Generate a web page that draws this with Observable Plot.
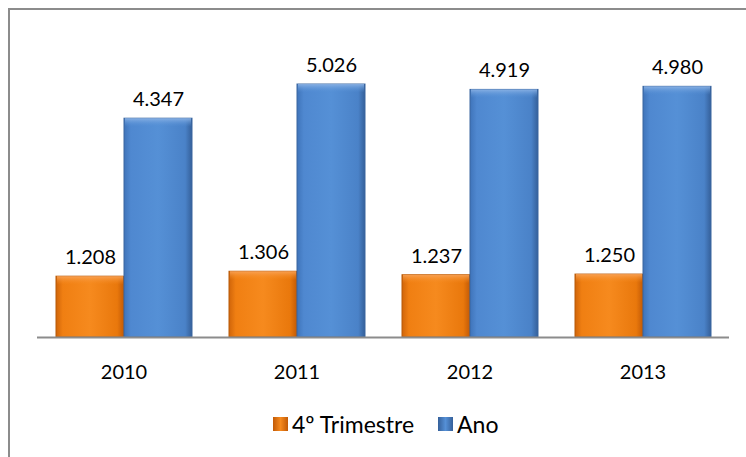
<!DOCTYPE html>
<html>
<head>
<meta charset="utf-8">
<script src="https://cdn.jsdelivr.net/npm/d3@7"></script>
<script src="https://cdn.jsdelivr.net/npm/@observablehq/plot@0.6"></script>
<style>
  html, body { margin: 0; padding: 0; background: #fff; }
  #wrap { position: relative; width: 746px; height: 457px; overflow: hidden; font-family: Lato, "Open Sans", sans-serif; }
  #border { position: absolute; left: 8px; top: 8px; width: 760px; height: 470px; border-left: 2px solid #8c8c8c; border-top: 2px solid #8c8c8c; }
  #legend { position: absolute; top: 410px; left: 273px; display: flex; align-items: center; font-size: 23px; color: #000; }
  .sw { width: 15px; height: 14px; display: inline-block; margin-right: 4px; box-sizing: border-box; }
</style>
</head>
<body>
<div id="wrap">
  <div id="border"></div>
  <div id="chart"></div>
  <div id="legend"></div>
</div>
<script>
const years = ["2010", "2011", "2012", "2013"];
const seriesNames = ["4º Trimestre", "Ano"];
const trimestre = [1.208, 1.306, 1.237, 1.250];
const ano = [4.347, 5.026, 4.919, 4.980];
const labels = { "4º Trimestre": ["1.208", "1.306", "1.237", "1.250"], "Ano": ["4.347", "5.026", "4.919", "4.980"] };

const data = [];
years.forEach((y, i) => {
  data.push({ year: y, series: seriesNames[0], value: trimestre[i], label: labels[seriesNames[0]][i] });
  data.push({ year: y, series: seriesNames[1], value: ano[i], label: labels[seriesNames[1]][i] });
});

const chart = Plot.plot({
  width: 746,
  height: 457,
  marginLeft: 35,
  marginRight: 16,
  marginTop: 35,
  marginBottom: 120,
  style: { fontFamily: "Lato, 'Open Sans', sans-serif", background: "transparent", overflow: "visible" },
  fx: { domain: years, padding: 0, label: null },
  x: { domain: seriesNames, paddingInner: 0, paddingOuter: 0.26, axis: null },
  y: { domain: [0, 6], axis: null },
  marks: [
    Plot.axisFx({ tickSize: 0, tickPadding: 27, fontSize: 20, label: null, anchor: "bottom" }),
    Plot.barY(data.filter(d => d.series === seriesNames[0]), { fx: "year", x: "series", y: "value", fill: "url(#gOrange)", stroke: "#b85a08", strokeWidth: 1 }),
    Plot.barY(data.filter(d => d.series === seriesNames[1]), { fx: "year", x: "series", y: "value", fill: "url(#gBlue)", stroke: "#3b66a0", strokeWidth: 1 }),
    Plot.barY(data.filter(d => d.series === seriesNames[0]), { fx: "year", x: "series", y1: d => d.value, y2: d => d.value - 0.17, fill: "url(#gOrangeTop)", insetLeft: 1, insetRight: 1 }),
    Plot.barY(data.filter(d => d.series === seriesNames[1]), { fx: "year", x: "series", y1: d => d.value, y2: d => d.value - 0.17, fill: "url(#gBlueTop)", insetLeft: 1, insetRight: 1 }),
    Plot.ruleY([0], { stroke: "#8c8c8c", strokeWidth: 2 }),
    Plot.text(data, { fx: "year", x: "series", y: "value", text: "label", dy: -19, fontSize: 20, fill: "#000" })
  ]
});

const defs = `
<defs>
  <linearGradient id="gOrange" x1="0" x2="1" y1="0" y2="0">
    <stop offset="0" stop-color="#d0650a"/>
    <stop offset="0.1" stop-color="#f07f12"/>
    <stop offset="0.5" stop-color="#f68a1e"/>
    <stop offset="0.9" stop-color="#e9780c"/>
    <stop offset="1" stop-color="#c25a06"/>
  </linearGradient>
  <linearGradient id="gBlue" x1="0" x2="1" y1="0" y2="0">
    <stop offset="0" stop-color="#3f74ba"/>
    <stop offset="0.1" stop-color="#4f88d0"/>
    <stop offset="0.5" stop-color="#5590d6"/>
    <stop offset="0.9" stop-color="#4a82c8"/>
    <stop offset="1" stop-color="#35609a"/>
  </linearGradient>
  <linearGradient id="gOrangeTop" x1="0" x2="0" y1="0" y2="1">
    <stop offset="0" stop-color="#f9a45a" stop-opacity="0.9"/>
    <stop offset="1" stop-color="#f68a1e" stop-opacity="0"/>
  </linearGradient>
  <linearGradient id="gBlueTop" x1="0" x2="0" y1="0" y2="1">
    <stop offset="0" stop-color="#8fb5e6" stop-opacity="0.9"/>
    <stop offset="1" stop-color="#5590d6" stop-opacity="0"/>
  </linearGradient>
</defs>`;
chart.insertAdjacentHTML("afterbegin", defs);
document.getElementById("chart").appendChild(chart);

const legend = document.getElementById("legend");
const colors = { "4º Trimestre": "linear-gradient(90deg,#c25a06,#f68a1e 50%,#c25a06)", "Ano": "linear-gradient(90deg,#35609a,#5590d6 50%,#35609a)" };
seriesNames.forEach((s, i) => {
  const item = document.createElement("span");
  item.style.display = "inline-flex";
  item.style.alignItems = "center";
  item.style.marginRight = i === 0 ? "24px" : "0";
  const sw = document.createElement("span");
  sw.className = "sw";
  sw.style.background = colors[s];
  item.appendChild(sw);
  item.appendChild(document.createTextNode(s));
  legend.appendChild(item);
});
</script>
</body>
</html>
